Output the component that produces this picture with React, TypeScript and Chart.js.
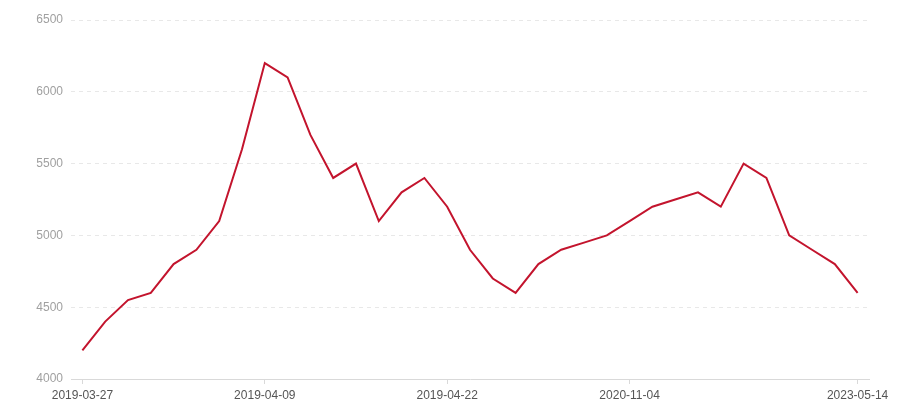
import React, { useEffect, useRef } from "react";
import { Chart, registerables } from "chart.js";

Chart.register(...registerables);

const dates: string[] = [
  "2019-03-27", "2019-03-28", "2019-03-29", "2019-03-31", "2019-04-01",
  "2019-04-03", "2019-04-05", "2019-04-08", "2019-04-09", "2019-04-10",
  "2019-04-11", "2019-04-13", "2019-04-15", "2019-04-17", "2019-04-18",
  "2019-04-20", "2019-04-22", "2019-05-10", "2019-07-02", "2019-09-15",
  "2019-12-01", "2020-03-18", "2020-06-09", "2020-08-27", "2020-11-04",
  "2021-02-16", "2021-05-20", "2021-08-11", "2021-11-03", "2022-01-25",
  "2022-04-18", "2022-07-30", "2022-10-12", "2023-01-26", "2023-05-14",
];

const values: number[] = [
  4200, 4400, 4550, 4600, 4800, 4900, 5100, 5600, 6200, 6100,
  5700, 5400, 5500, 5100, 5300, 5400, 5200, 4900, 4700, 4600,
  4800, 4900, 4950, 5000, 5100, 5200, 5250, 5300, 5200, 5500,
  5400, 5000, 4900, 4800, 4600,
];

const shownLabels: string[] = ["2019-03-27", "2019-04-09", "2019-04-22", "2020-11-04", "2023-05-14"];

const yMin = 4000;
const yMax = 6500;
const yStep = 500;

export default function App() {
  const ref = useRef<HTMLCanvasElement | null>(null);

  useEffect(() => {
    if (!ref.current) return;
    const font = { family: "'Liberation Sans', Arial, sans-serif", size: 12 };
    const chart = new Chart(ref.current, {
      type: "line",
      data: {
        labels: dates,
        datasets: [
          {
            data: values,
            borderColor: "#c3142d",
            borderWidth: 2,
            pointRadius: 0,
            tension: 0,
            fill: false,
          },
        ],
      },
      options: {
        animation: false,
        responsive: false,
        maintainAspectRatio: false,
        layout: { padding: { top: 20, right: 31, left: 0, bottom: 0 } },
        plugins: { legend: { display: false }, tooltip: { enabled: false } },
        scales: {
          x: {
            type: "category",
            offset: true,
            afterFit: (s: any) => {
              s.height = 21;
            },
            grid: {
              display: true,
              drawOnChartArea: false,
              drawTicks: true,
              offset: false,
              tickLength: 5,
              tickColor: "#d9d9d9",
            },
            border: { display: true, color: "#d9d9d9", width: 1 },
            ticks: {
              autoSkip: false,
              maxRotation: 0,
              minRotation: 0,
              padding: 4,
              color: "#555",
              font,
              callback: (_v: any, i: number) =>
                shownLabels.includes(dates[i]) ? dates[i] : null,
            },
          },
          y: {
            min: yMin,
            max: yMax,
            afterFit: (s: any) => {
              s.width = 71;
            },
            grid: {
              color: "#e8e8e8",
              drawTicks: false,
            },
            border: { display: false, dash: [4, 4] },
            ticks: {
              stepSize: yStep,
              padding: 8,
              color: "#a0a0a0",
              font,
              callback: (v: any) => String(v),
            },
          },
        },
      },
    });
    return () => chart.destroy();
  }, []);

  return (
    <div style={{ position: "fixed", left: 0, top: 0, width: 900, height: 400 }}>
      <canvas ref={ref} width={900} height={400} style={{ width: 900, height: 400 }} />
    </div>
  );
}
